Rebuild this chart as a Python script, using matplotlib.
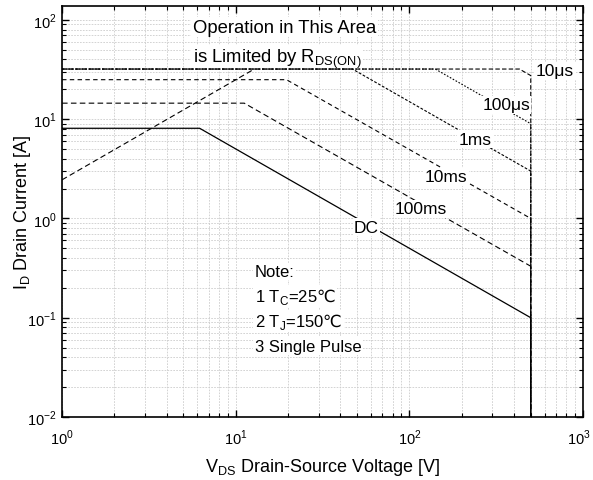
import matplotlib
matplotlib.use("Agg")
import matplotlib.pyplot as plt
from matplotlib.transforms import ScaledTranslation

plt.rcParams['font.family'] = ['Liberation Sans', 'DejaVu Sans']
plt.rcParams['mathtext.fontset'] = 'custom'
plt.rcParams['mathtext.rm'] = 'Liberation Sans'
plt.rcParams['mathtext.sf'] = 'DejaVu Sans'

# SOA curves: (V, I) breakpoints
dc_v = [1, 6.2, 500, 500]
dc_i = [8.1, 8.1, 0.1, 0.01]
ms100_v = [1, 11.2, 500, 500]
ms100_i = [14.5, 14.5, 0.33, 0.01]
ms10_v = [1, 19.6, 500, 500]
ms10_i = [25, 25, 1.0, 0.01]
ms1_v = [1, 47, 500, 500]
ms1_i = [32, 32, 3.0, 0.01]
us100_v = [1, 141, 500, 500]
us100_i = [32, 32, 9.0, 0.01]
us10_v = [1, 430, 500, 500]
us10_i = [32, 32, 27.5, 0.01]
rds_v = [1, 12.8]
rds_i = [2.45, 32]

labels = ['10μs', '100μs', '1ms', '10ms', '100ms', 'DC']
label_v = [690, 361, 239, 163, 117, 56.6]
label_i = [30.6, 13.9, 6.3, 2.62, 1.25, 0.82]

fig = plt.figure(figsize=(5.93, 4.81), dpi=100)
ax = fig.add_axes([0.1046, 0.131, 0.8786, 0.8544])

ax.plot(rds_v, rds_i, color='k', lw=0.8, dashes=(5, 3))
ax.plot(us10_v, us10_i, color='k', lw=0.8, dashes=(4, 2))
ax.plot(us100_v, us100_i, color='k', lw=0.8, dashes=(1.5, 1.5))
ax.plot(ms1_v, ms1_i, color='k', lw=0.8, dashes=(2.5, 1.5))
ax.plot(ms10_v, ms10_i, color='k', lw=0.8, dashes=(4, 3))
ax.plot(ms100_v, ms100_i, color='k', lw=0.8, dashes=(5, 3))
ax.plot(dc_v, dc_i, color='k', lw=0.9)

ax.set_xscale('log')
ax.set_yscale('log')
ax.set_xlim(1, 1000)
ax.set_ylim(0.01, 10 ** 2.14)

ax.grid(True, which='both', color='#cccccc', lw=0.6, ls=(0, (2, 1.5)))
ax.set_axisbelow(True)
ax.tick_params(which='both', direction='in', top=True, right=True, labelsize=10.5)
ax.tick_params(which='major', length=5, width=1)
ax.tick_params(axis='y', pad=4)
ax.tick_params(axis='x', pad=8)
ax.tick_params(which='minor', length=3, width=0.8)
for s in ax.spines.values():
    s.set_linewidth(1.2)

ax.set_xticks([1, 10, 100, 1000])
ax.set_xticklabels([r'$10^{0}$', r'$10^{1}$', r'$10^{2}$', r'$10^{3}$'])
ax.set_yticks([0.01, 0.1, 1, 10, 100])
ax.set_yticklabels([r'$10^{-2}$', r'$10^{-1}$', r'$10^{0}$', r'$10^{1}$', r'$10^{2}$'])
last = ax.get_xticklabels()[-1]
last.set_transform(last.get_transform() + ScaledTranslation(-3 / 72, 0, fig.dpi_scale_trans))

ax.set_xlabel(r'V$_{\mathrm{DS}}$ Drain-Source Voltage [V]', fontsize=13)
ax.set_ylabel(r'I$_{\mathrm{D}}$ Drain Current [A]', fontsize=13)
ax.xaxis.set_label_coords(0.5, -0.095)
ax.yaxis.set_label_coords(-0.055, 0.5)

box = dict(facecolor='white', edgecolor='none', pad=1)
for t, v, i in zip(labels, label_v, label_i):
    ax.text(v, i, t, fontsize=12.5, ha='center', va='center', bbox=box)

ax.text(0.251, 0.937, 'Operation in This Area', transform=ax.transAxes,
        fontsize=13.3, va='baseline', bbox=box, zorder=1.5)
ax.text(0.251, 0.864, r'is Limited by R$_{\mathrm{DS(ON)}}$', transform=ax.transAxes,
        fontsize=13.3, va='baseline', bbox=box, zorder=1.5)

notes = ['Note:', r'1 T$_{\mathrm{C}}$=25$\mathsf{℃}$', r'2 T$_{\mathrm{J}}$=150$\mathsf{℃}$', '3 Single Pulse']
note_y = [0.343, 0.282, 0.221, 0.161]
for t, y in zip(notes, note_y):
    ax.text(0.370, y, t, transform=ax.transAxes, fontsize=12, va='baseline', bbox=box)

fig.savefig('out.png', dpi=100)
